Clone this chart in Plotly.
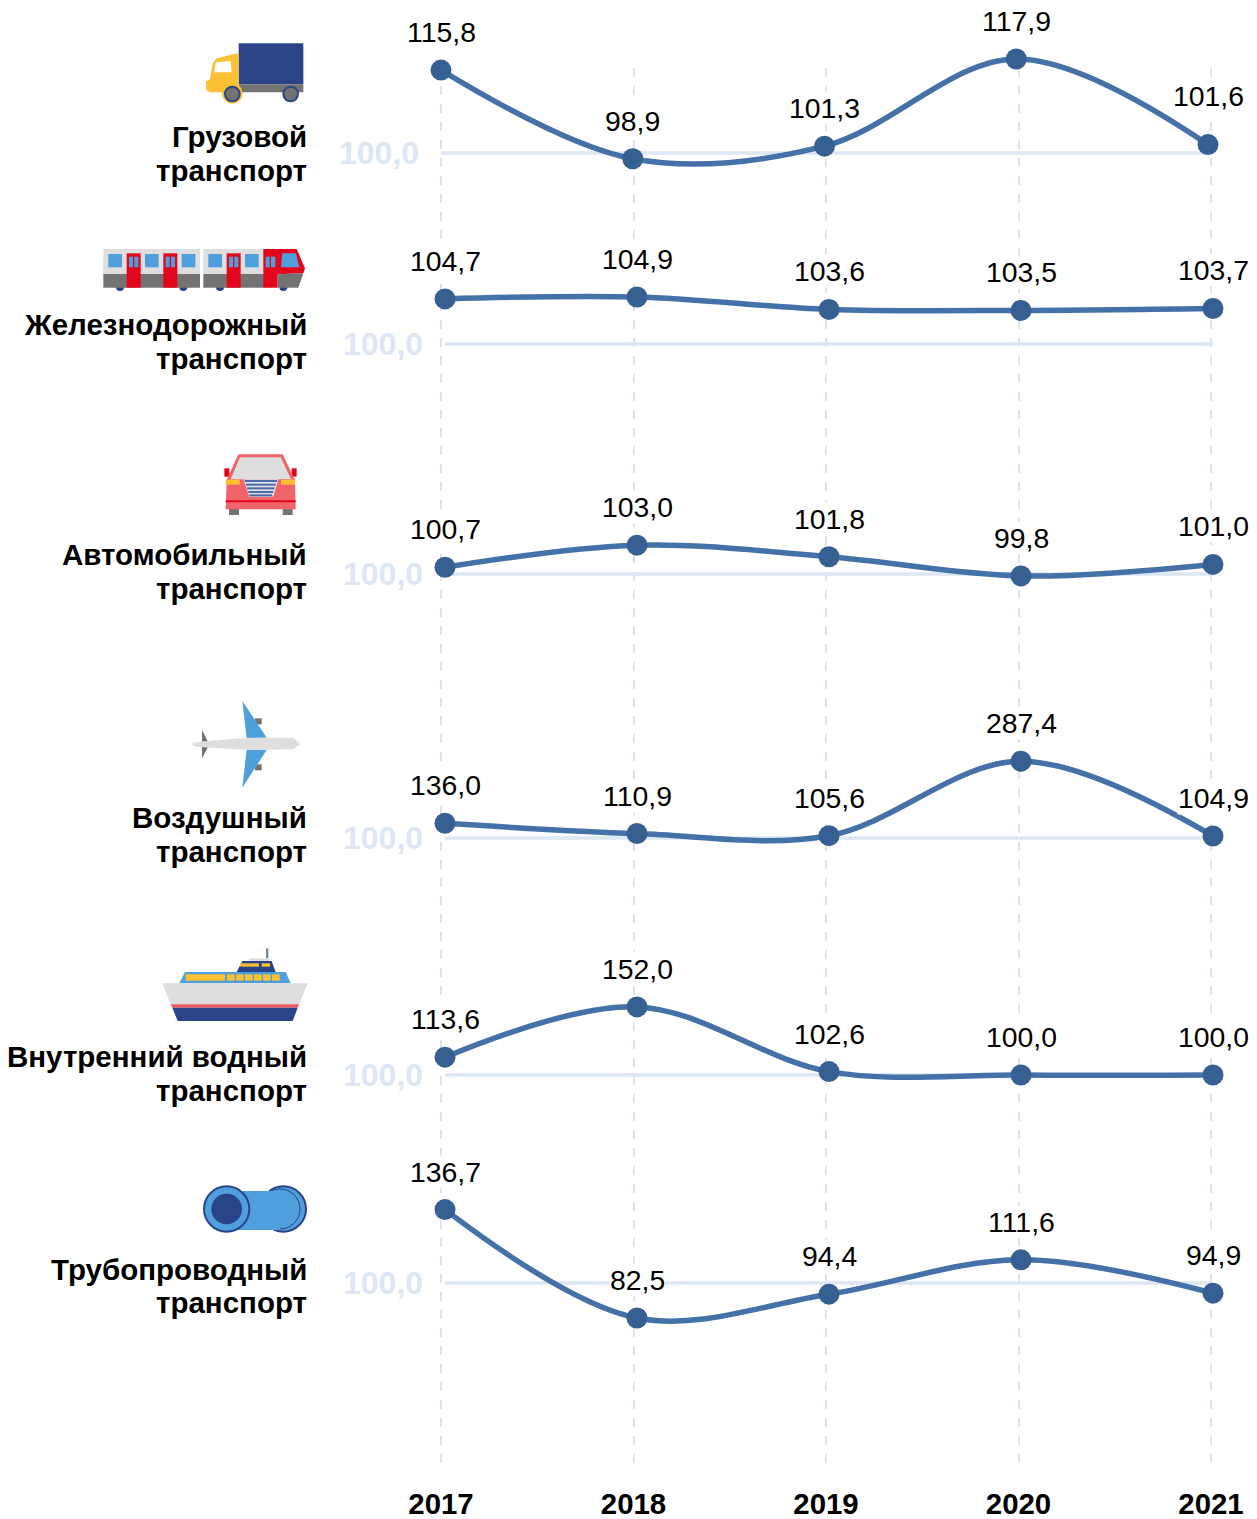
import plotly.graph_objects as go

W = 1257
H = 1519

years = [2017, 2018, 2019, 2020, 2021]
base_value = 100.0

truck = [115.8, 98.9, 101.3, 117.9, 101.6]
rail = [104.7, 104.9, 103.6, 103.5, 103.7]
road = [100.7, 103.0, 101.8, 99.8, 101.0]
air = [136.0, 110.9, 105.6, 287.4, 104.9]
water = [113.6, 152.0, 102.6, 100.0, 100.0]
pipe = [136.7, 82.5, 94.4, 111.6, 94.9]

series = [truck, rail, road, air, water, pipe]
names = [
    ["Грузовой", "транспорт"],
    ["Железнодорожный", "транспорт"],
    ["Автомобильный", "транспорт"],
    ["Воздушный", "транспорт"],
    ["Внутренний водный", "транспорт"],
    ["Трубопроводный", "транспорт"],
]

# layout of each panel: pixel row of the 100 line, pixels per unit, pixel row of the two name lines
base_rows = [153, 344, 574, 838, 1075, 1283]
px_per_unit = [5.25, 9.6, 9.6, 0.41, 1.31, 2.0]
name_rows = [(137, 171), (325, 359), (554, 588), (817, 851), (1056, 1090), (1269, 1302)]

FONT = "Liberation Sans"
LINE = "#4472a8"
DOT = "#366092"
PALE = "#dde6f3"
NAVY = "#2a4488"
BLUE = "#4f9fdc"
RED = "#e3051b"
GREY = "#737373"
LIGHT = "#dedede"
YELLOW = "#fbc033"


def px(x):
    return x / W


def py(y):
    return 1 - y / H


fig = go.Figure()
shapes = []
notes = []


def poly(ox, oy, pts, color):
    path = "M " + " L ".join(f"{px(ox + a / 3):.5f},{py(oy + b / 3):.5f}" for a, b in pts) + " Z"
    shapes.append(dict(type="path", path=path, xref="paper", yref="paper",
                       fillcolor=color, line=dict(width=0)))


def rect(ox, oy, x0, y0, x1, y1, color):
    poly(ox, oy, [(x0, y0), (x1, y0), (x1, y1), (x0, y1)], color)


def circle(ox, oy, cx, cy, r, color, edge=None, edge_w=0):
    shapes.append(dict(type="circle", xref="paper", yref="paper",
                       x0=px(ox + (cx - r) / 3), x1=px(ox + (cx + r) / 3),
                       y0=py(oy + (cy - r) / 3), y1=py(oy + (cy + r) / 3),
                       fillcolor=color, line=dict(width=edge_w, color=edge or color)))


def draw_truck(ox=190, oy=30):
    rect(ox, oy, 146, 40, 340, 163, NAVY)
    rect(ox, oy, 146, 163, 340, 187, GREY)
    poly(ox, oy, [(142, 70), (80, 85), (68, 100), (60, 148), (48, 155), (48, 178),
                  (58, 187), (146, 187), (146, 70)], YELLOW)
    poly(ox, oy, [(78, 97), (122, 93), (125, 127), (72, 127)], "white")
    circle(ox, oy, 127, 190, 31, YELLOW)
    circle(ox, oy, 127, 192, 22, GREY, NAVY, 2)
    circle(ox, oy, 302, 192, 22, GREY, NAVY, 2)


def train_door(ox, oy, x0):
    rect(ox, oy, x0, 55, x0 + 42, 158, RED)
    rect(ox, oy, x0 + 7, 65, x0 + 19, 97, BLUE)
    rect(ox, oy, x0 + 23, 65, x0 + 35, 97, BLUE)


def draw_train(ox=95, oy=235):
    for x in [75, 265, 375, 565]:
        circle(ox, oy, x, 156, 12, NAVY)
    rect(ox, oy, 25, 42, 315, 117, LIGHT)
    rect(ox, oy, 25, 117, 315, 158, GREY)
    rect(ox, oy, 325, 42, 510, 117, LIGHT)
    rect(ox, oy, 325, 117, 510, 158, GREY)
    for x in [40, 150, 260, 340, 450]:
        rect(ox, oy, x, 57, x + 41, 97, BLUE)
    for x in [95, 205, 395]:
        train_door(ox, oy, x)
    poly(ox, oy, [(505, 42), (605, 42), (630, 100), (625, 115), (548, 118), (548, 158), (505, 158)], RED)
    poly(ox, oy, [(548, 118), (625, 115), (610, 158), (548, 158)], GREY)
    rect(ox, oy, 512, 65, 524, 97, BLUE)
    rect(ox, oy, 528, 65, 541, 97, BLUE)
    poly(ox, oy, [(562, 55), (603, 55), (613, 97), (558, 97)], BLUE)


def draw_car(ox=210, oy=445):
    rect(ox, oy, 57, 190, 87, 210, GREY)
    rect(ox, oy, 218, 190, 248, 210, GREY)
    rect(ox, oy, 43, 70, 58, 95, RED)
    rect(ox, oy, 245, 70, 260, 95, RED)
    poly(ox, oy, [(50, 105), (85, 28), (218, 28), (255, 105), (257, 193), (47, 193)], "#f0646a")
    poly(ox, oy, [(62, 103), (90, 37), (212, 37), (243, 103)], LIGHT)
    rect(ox, oy, 47, 104, 90, 119, YELLOW)
    rect(ox, oy, 213, 104, 255, 119, YELLOW)
    poly(ox, oy, [(100, 103), (205, 103), (190, 155), (118, 155)], "#dfe3ea")
    for y0 in [105, 116, 127, 138, 148]:
        rect(ox, oy, 104 + (y0 - 105) / 3, y0, 201 - (y0 - 105) / 3, y0 + 6, "#4a6aa8")
    rect(ox, oy, 47, 166, 257, 172, RED)


def draw_plane(ox=180, oy=695):
    rect(ox, oy, 225, 70, 245, 88, GREY)
    rect(ox, oy, 225, 208, 245, 226, GREY)
    poly(ox, oy, [(187, 18), (260, 128), (200, 130)], BLUE)
    poly(ox, oy, [(200, 163), (260, 165), (187, 278)], BLUE)
    poly(ox, oy, [(66, 105), (84, 140), (66, 140)], GREY)
    poly(ox, oy, [(66, 156), (84, 156), (66, 190)], GREY)
    poly(ox, oy, [(38, 143), (60, 140), (200, 128), (340, 128), (362, 147), (340, 163),
                  (200, 165), (60, 156), (38, 152)], LIGHT)


def draw_ship(ox=155, oy=940):
    rect(ox, oy, 333, 25, 340, 55, "#6f86a8")
    rect(ox, oy, 282, 55, 342, 63, LIGHT)
    poly(ox, oy, [(245, 96), (262, 63), (350, 63), (362, 96)], NAVY)
    rect(ox, oy, 255, 70, 312, 80, YELLOW)
    rect(ox, oy, 320, 70, 345, 80, YELLOW)
    poly(ox, oy, [(73, 130), (90, 96), (392, 96), (407, 130)], BLUE)
    rect(ox, oy, 92, 103, 210, 122, YELLOW)
    for x in [216, 243, 270, 297, 324, 351]:
        rect(ox, oy, x, 103, x + 23, 122, YELLOW)
    poly(ox, oy, [(22, 130), (458, 130), (432, 193), (47, 193)], LIGHT)
    poly(ox, oy, [(47, 193), (432, 193), (428, 203), (52, 203)], "#ee5a60")
    poly(ox, oy, [(52, 203), (428, 203), (413, 243), (68, 243)], NAVY)


def draw_pipe(ox=195, oy=1175):
    circle(ox, oy, 265, 102, 68, BLUE, NAVY, 2)
    circle(ox, oy, 255, 102, 60, BLUE, NAVY, 1)
    rect(ox, oy, 95, 48, 255, 165, BLUE)
    circle(ox, oy, 95, 102, 68, BLUE, NAVY, 2)
    circle(ox, oy, 95, 102, 46, NAVY)


for draw in [draw_truck, draw_train, draw_car, draw_plane, draw_ship, draw_pipe]:
    draw()

# full height axis that only carries the dashed year lines and the tick labels
fig.add_trace(go.Scatter(x=years, y=[0] * len(years), mode="none", hoverinfo="skip", showlegend=False))

# the range runs a little past the years, plotly drops grid lines that sit on the very edge
pad = 0.05
year_px = (1211 - 441) / (years[-1] - years[0])
layout_axes = dict(
    xaxis=dict(domain=[px(441 - pad * year_px), px(1211 + pad * year_px)],
               range=[years[0] - pad, years[-1] + pad], tickmode="array", tickvals=years,
               showgrid=True, griddash="dash", gridcolor="#d9e3f1", gridwidth=2, zeroline=False,
               showline=False, ticks="outside", ticklen=6, tickcolor="rgba(0,0,0,0)",
               tickfont=dict(family=FONT, size=29.4, color="black"),
               ticktext=[f"<b>{y}</b>" for y in years]),
    yaxis=dict(domain=[py(1472), py(68)], range=[0, 1], visible=False),
)

for i, values in enumerate(series):
    n = i + 2
    left, right = (441, 1208) if i == 0 else (445, 1213)
    row = base_rows[i]
    scale = px_per_unit[i]
    top, bottom = row - 130, row + 60
    layout_axes[f"xaxis{n}"] = dict(domain=[px(left), px(right)], range=[years[0], years[-1]],
                                    visible=False, anchor=f"y{n}")
    layout_axes[f"yaxis{n}"] = dict(domain=[py(bottom), py(top)],
                                    range=[base_value - 60 / scale, base_value + 130 / scale],
                                    visible=False, anchor=f"x{n}")

    fig.add_trace(go.Scatter(x=years, y=[base_value] * len(years), mode="lines", xaxis=f"x{n}", yaxis=f"y{n}",
                             line=dict(color=PALE, width=3.5), hoverinfo="skip", showlegend=False, cliponaxis=False))
    fig.add_trace(go.Scatter(x=years, y=values, mode="lines", xaxis=f"x{n}", yaxis=f"y{n}",
                             line=dict(color=LINE, width=5.5, shape="spline", smoothing=1),
                             showlegend=False, cliponaxis=False))
    fig.add_trace(go.Scatter(x=years, y=values, mode="markers", xaxis=f"x{n}", yaxis=f"y{n}",
                             marker=dict(color=DOT, size=21), showlegend=False, cliponaxis=False))

    for year, value in zip(years, values):
        shift = 49 if (i == 0 and year == years[-1]) else 38
        notes.append(dict(x=year, y=value, xref=f"x{n}", yref=f"y{n}", yshift=shift, showarrow=False,
                          text=f"{value:.1f}".replace(".", ","), bgcolor="white", borderpad=0,
                          font=dict(family=FONT, size=28.4, color="black")))

    notes.append(dict(x=px(left - 20), y=py(row), xref="paper", yref="paper", xanchor="right", yanchor="middle",
                      showarrow=False, text=f"<b>{base_value:.1f}</b>".replace(".", ","),
                      font=dict(family=FONT, size=32, color=PALE)))
    for line, line_row in zip(names[i], name_rows[i]):
        notes.append(dict(x=px(309), y=py(line_row), xref="paper", yref="paper", xanchor="right", yanchor="middle",
                          showarrow=False, text=f"<b>{line}</b>",
                          font=dict(family=FONT, size=29.5, color="black")))

fig.update_layout(width=W, height=H, margin=dict(l=0, r=0, t=0, b=0, autoexpand=False),
                  paper_bgcolor="white", plot_bgcolor="rgba(0,0,0,0)",
                  showlegend=False, shapes=shapes, annotations=notes, **layout_axes)

fig.write_html("out.html", config=dict(displayModeBar=False),
               post_script="document.body.style.margin='0';document.body.style.overflow='hidden';")
